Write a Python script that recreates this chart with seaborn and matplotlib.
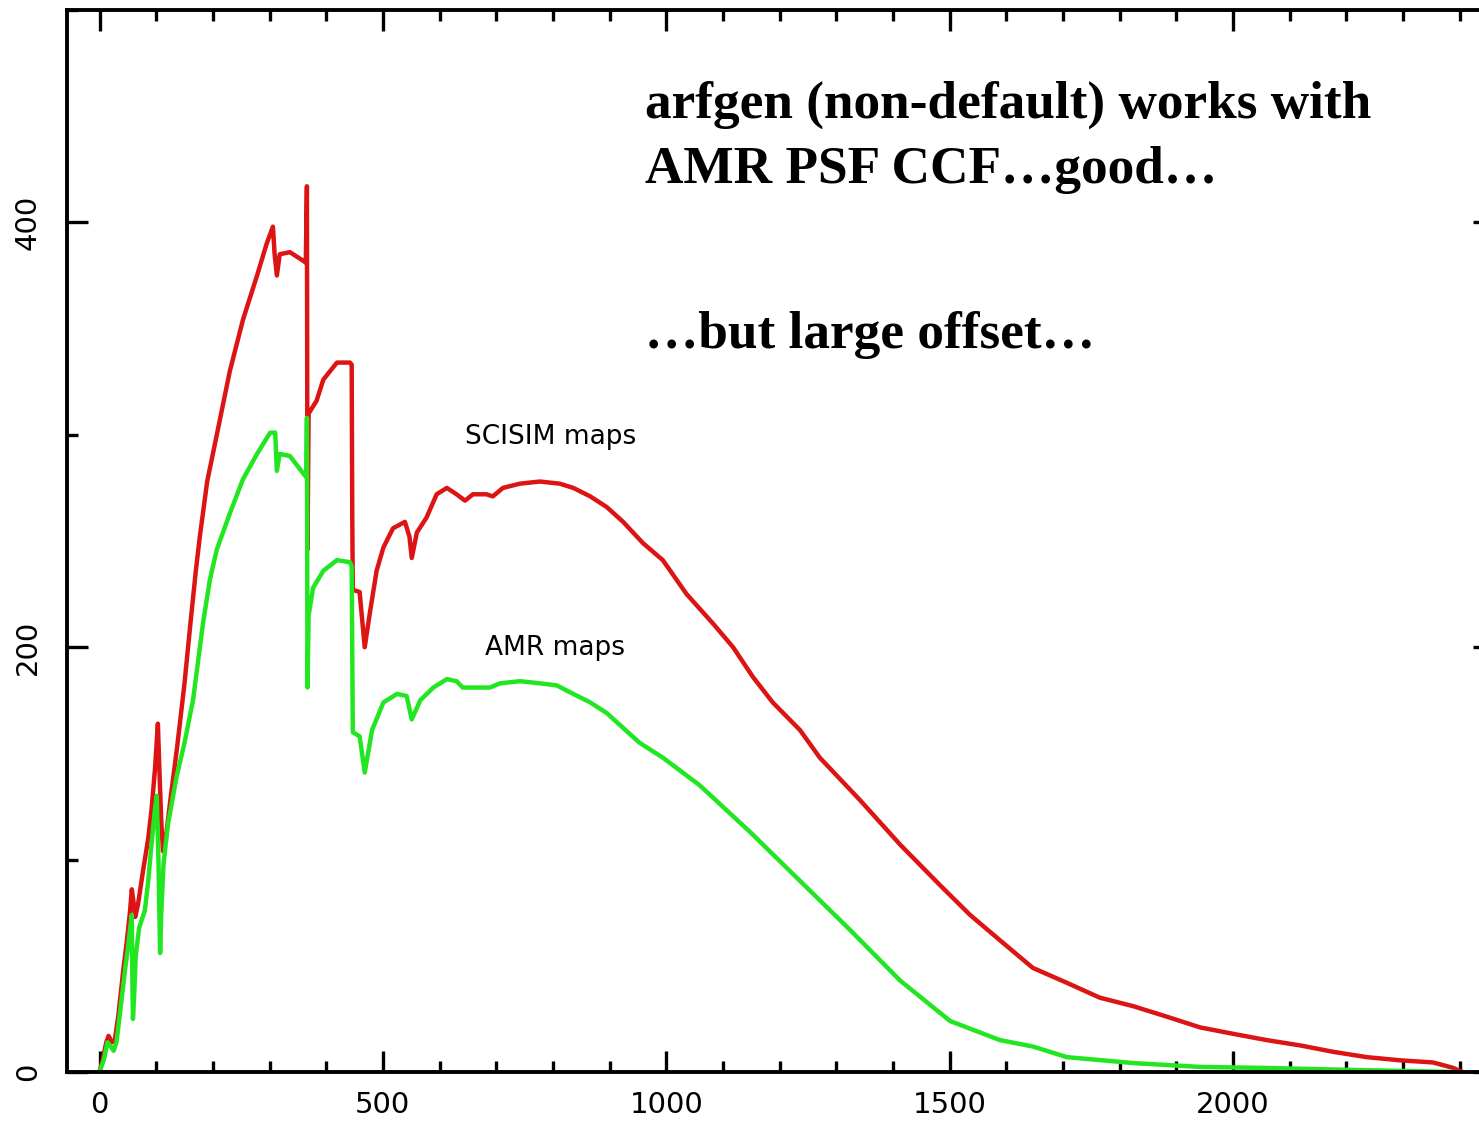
import matplotlib
matplotlib.use("Agg")
import matplotlib.pyplot as plt
import seaborn as sns
import pandas as pd
from matplotlib.ticker import MultipleLocator

# ---- data ----
scisim_x = [0, 5, 12, 16, 22, 27, 33, 42, 48, 54, 57, 60, 63, 68, 77, 86, 92, 98, 103,
            106, 109, 112, 117, 125, 137, 150, 160, 170, 177, 190, 207, 230, 253, 278, 295,
            306, 309, 313, 318, 336, 359, 364, 366, 367, 369, 383, 395, 419, 442, 445, 446,
            447, 459, 468, 477, 489, 501, 518, 539, 547, 551, 560, 577, 595, 613, 630,
            645, 659, 683, 694, 712, 742, 777, 812, 836, 866, 895, 924, 959, 994, 1036,
            1083, 1118, 1153, 1188, 1236, 1271, 1342, 1413, 1483, 1536, 1589, 1647, 1707,
            1765, 1824, 1884, 1942, 2000, 2060, 2119, 2177, 2236, 2295, 2353, 2388, 2405]
scisim_y = [0, 5, 14, 17, 14, 15, 26, 48, 61, 76, 86, 80, 73, 79, 95, 110, 124, 143, 164,
            140, 118, 104, 110, 128, 153, 183, 210, 236, 252, 278, 300, 330, 354, 375, 390,
            398, 385, 375, 385, 386, 382, 381, 417, 246, 310, 316, 326, 334, 334, 333, 263,
            227, 226, 200, 216, 236, 247, 256, 259, 252, 242, 254, 261, 272, 275, 272,
            269, 272, 272, 271, 275, 277, 278, 277, 275, 271, 266, 259, 249, 241, 225,
            211, 200, 186, 174, 161, 148, 128, 107, 88, 74, 62, 49, 42,
            35, 31, 26, 21, 18, 15, 12.5, 9.5, 7, 5.5, 4.5, 2, 0]

amr_x = [0, 8, 14, 20, 25, 30, 38, 45, 50, 55, 57, 58, 59, 61, 64, 70, 80, 86, 92, 98,
         101, 104, 106, 107, 109, 113, 121, 136, 150, 165, 183, 195, 207, 230, 253, 278,
         301, 310, 313, 318, 336, 359, 365, 366, 367, 369, 377, 395, 419, 442, 445, 447,
         459, 468, 481, 501, 525, 542, 551, 566, 589, 613, 630, 641, 659, 689, 707, 742,
         777, 807, 836, 866, 895, 924, 953, 994, 1059, 1148, 1236, 1324, 1413, 1501, 1589,
         1647, 1707, 1824, 1942, 2060, 2207, 2392]
amr_y = [0, 6, 14, 12, 10, 14, 32, 48, 58, 70, 74, 45, 25, 35, 55, 68, 76, 90, 108, 124,
         130, 100, 70, 56, 75, 98, 117, 139, 155, 175, 212, 232, 246, 263, 279, 291,
         301, 301, 283, 291, 290, 282, 280, 308, 181, 215, 228, 236, 241, 240, 238, 160,
         158, 141, 161, 174, 178, 177, 166, 175, 181, 185, 184, 181, 181, 181, 183, 184,
         183, 182, 178, 174, 169, 162, 155, 148, 135, 113, 90, 67, 43, 24, 15,
         12, 7, 4.2, 2.4, 1.9, 1, 0]

x_ticks = [0, 500, 1000, 1500, 2000]
y_ticks = [0, 200, 400]

title_lines = ["arfgen (non-default) works with", "AMR PSF CCF\u2026good\u2026"]
subtitle = "\u2026but large offset\u2026"
label_scisim = "SCISIM maps"
label_amr = "AMR maps"

# ---- figure ----
sns.set_theme(style="ticks")
plt.rcParams["font.family"] = ["DejaVu Sans"]

W, H = 1479, 1124
fig = plt.figure(figsize=(W / 100, H / 100), dpi=100)
fig.patch.set_facecolor("white")
ax = fig.add_axes([67 / W, 52 / H, (1494 - 67) / W, (1072 - 10) / H])
ax.set_facecolor("white")

df_s = pd.DataFrame({"x": scisim_x, "y": scisim_y})
df_a = pd.DataFrame({"x": amr_x, "y": amr_y})
sns.lineplot(data=df_s, x="x", y="y", ax=ax, color="#dc1414", linewidth=3.2,
             sort=False, estimator=None)
sns.lineplot(data=df_a, x="x", y="y", ax=ax, color="#22e622", linewidth=3.2,
             sort=False, estimator=None)

ax.set_xlim(-57.35, -57.35 + (1494 - 67) / 0.5667)
ax.set_ylim(0, 500)
ax.set_xlabel("")
ax.set_ylabel("")

ax.set_xticks(x_ticks)
ax.set_xticklabels([str(v) for v in x_ticks])
ax.xaxis.set_minor_locator(MultipleLocator(100))
ax.set_yticks(y_ticks)
ax.set_yticklabels([str(v) for v in y_ticks], rotation=90, va="center")
ax.yaxis.set_minor_locator(MultipleLocator(100))

for s in ["left", "bottom", "top"]:
    ax.spines[s].set_visible(True)
    ax.spines[s].set_linewidth(2.8)
    ax.spines[s].set_color("black")
ax.spines["right"].set_visible(False)

ax.tick_params(which="both", direction="in", top=True, right=True, color="black",
               width=2.4)
ax.tick_params(which="major", length=15)
ax.tick_params(which="minor", length=8)
ax.tick_params(axis="x", which="major", labelsize=21, pad=14, labelcolor="black")
ax.tick_params(axis="y", which="major", labelsize=21, pad=18, labelcolor="black")

# annotations
serif = ["Liberation Serif", "DejaVu Serif"]
fs = 38.3
fig.text(645 / W, 1 - 118 / H, title_lines[0], fontsize=fs, fontweight="bold",
         family=serif, va="baseline", ha="left", color="black")
fig.text(645 / W, 1 - 183 / H, title_lines[1], fontsize=fs, fontweight="bold",
         family=serif, va="baseline", ha="left", color="black")
fig.text(645 / W, 1 - 348 / H, subtitle, fontsize=fs, fontweight="bold",
         family=serif, va="baseline", ha="left", color="black")

ax.text(645, 299, label_scisim, fontsize=19, ha="left", va="center", color="black")
ax.text(680, 199.5, label_amr, fontsize=19, ha="left", va="center", color="black")

fig.savefig("out.png", dpi=100, facecolor="white")
